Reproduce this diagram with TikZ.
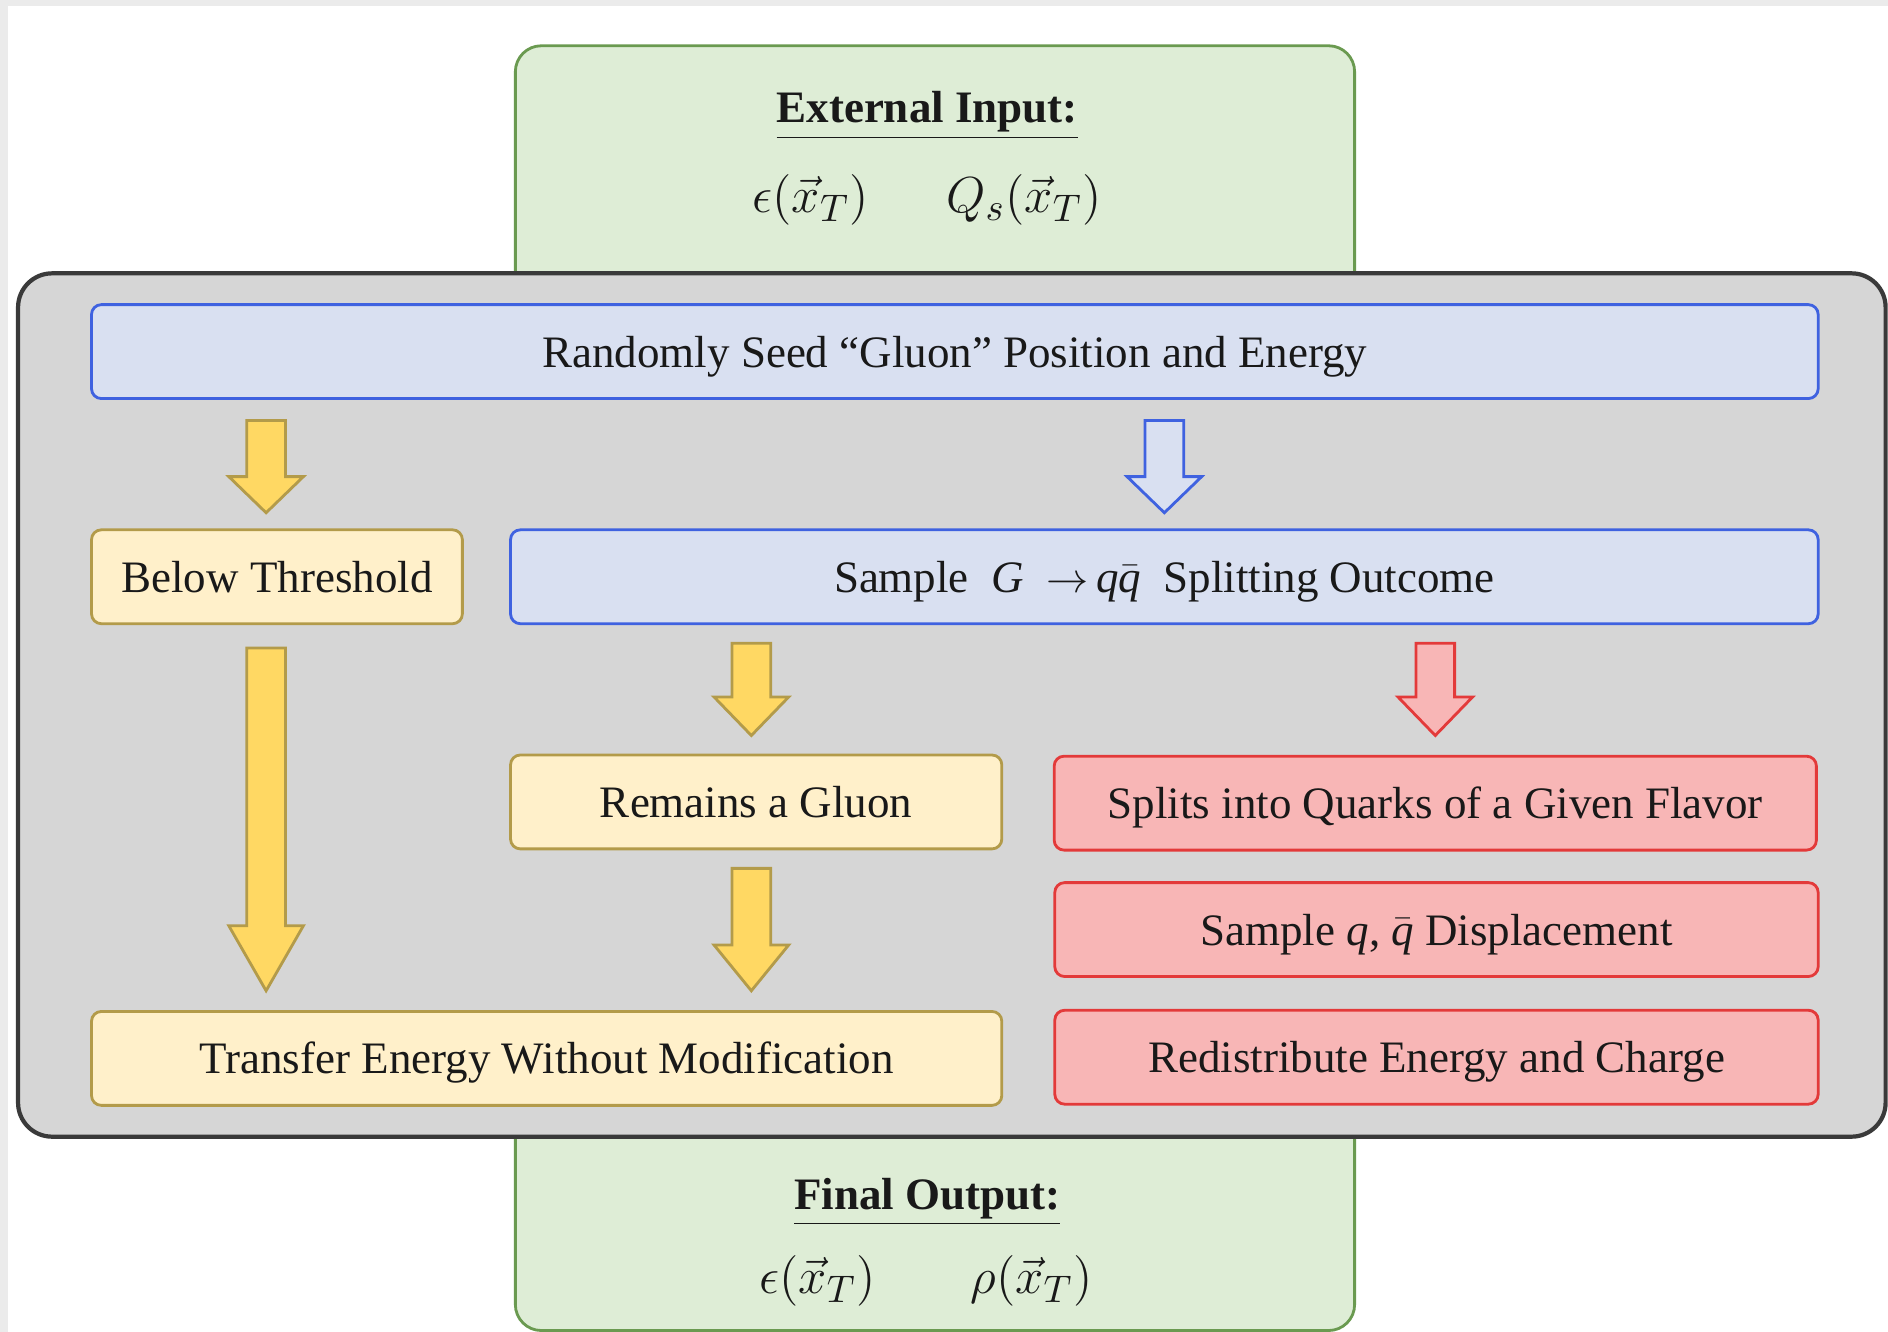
\documentclass[tikz,border=0pt]{standalone}
\usepackage{fontspec}
\setmainfont{Liberation Serif}
\usetikzlibrary{calc,positioning}
\definecolor{grayfill}{HTML}{D6D6D6}
\definecolor{grayline}{HTML}{3A3A3A}
\definecolor{greenfill}{HTML}{DEEDD6}
\definecolor{greenline}{HTML}{6A9A50}
\definecolor{bluefill}{HTML}{D9E0F1}
\definecolor{blueline}{HTML}{3F62E0}
\definecolor{yelfill}{HTML}{FFF0CA}
\definecolor{yelline}{HTML}{B39B4A}
\definecolor{yelarrow}{HTML}{FFD863}
\definecolor{redfill}{HTML}{F8B6B6}
\definecolor{redline}{HTML}{E33A3A}
\def\pxu{0.12041mm}
\def\shaftw{1.93mm}
\def\headw{3.73mm}
% fat block arrow: [head length]{style}{start}{tip}
\newcommand{\fatarrow}[4][30]{%
	\draw[#2] let \p1=#3, \p2=#4 in
		(\x1-\shaftw,\y1) -- (\x1+\shaftw,\y1) -- (\x1+\shaftw,\y2+#1*\pxu)
		-- (\x1+\headw,\y2+#1*\pxu) -- (\x1,\y2) -- (\x1-\headw,\y2+#1*\pxu)
		-- (\x1-\shaftw,\y2+#1*\pxu) -- cycle;}

\begin{document}
\begin{tikzpicture}[x=\pxu,y=-\pxu,% picture in pixels of the reference
			every node/.style={
				align=center,
				text=black!90,
				font=\fontsize{12.8pt}{15pt}\selectfont
			},
			box/.style={rectangle,rounded corners=2.8pt,line width=0.8pt,
				minimum height=78*\pxu,inner sep=0pt,
				text height=11pt,text depth=2.2pt},
			bluebox/.style={box,draw=blueline,fill=bluefill},
			yelbox/.style={box,draw=yelline,fill=yelfill},
			redbox/.style={box,draw=redline,fill=redfill},
			mathtext/.style={font=\fontsize{15pt}{18pt}\selectfont},
			yelarr/.style={draw=yelline,fill=yelarrow,line width=0.8pt,line join=miter},
			bluearr/.style={draw=blueline,fill=bluefill,line width=0.8pt,line join=miter},
			redarr/.style={draw=redline,fill=redfill,line width=0.8pt,line join=miter}
		]
		\useasboundingbox (0,0) rectangle (1568,1106);
		\fill[white] (0,0) rectangle (1568,1106);
		\fill[black!8] (0,0) rectangle (7,1106);
		\fill[black!8] (0,0) rectangle (1568,5);

		% input and output panels
		\draw[greenline,fill=greenfill,line width=0.8pt,rounded corners=2.6mm] (428,38) rectangle (1125,320);
		\draw[greenline,fill=greenfill,line width=0.8pt,rounded corners=2.6mm] (428,880) rectangle (1125,1105);
		\node[font=\fontsize{12.8pt}{15pt}\selectfont\bfseries](intitle) at (770,96) {\underline{External Input:}};
		\node[mathtext](inmath) at (770,166) {$\epsilon\bigl(\vec{x}_T\bigr)\hspace{22pt}Q_s\bigl(\vec{x}_T\bigr)$};
		\node[font=\fontsize{12.8pt}{15pt}\selectfont\bfseries](outtitle) at (770,998) {\underline{Final Output:}};
		\node[mathtext](outmath) at (769,1064) {$\epsilon\bigl(\vec{x}_T\bigr)\hspace{27pt}\rho\bigl(\vec{x}_T\bigr)$};

		% main stage
		\draw[grayline,fill=grayfill,line width=1.2pt,rounded corners=3.4mm] (15,227) rectangle (1566,944);

		\node[bluebox,minimum width=1434*\pxu](seed) at (793,292) {Randomly Seed ``Gluon'' Position and Energy};
		\node[yelbox,minimum width=308*\pxu](below) at (230,479) {Below Threshold};
		\node[bluebox,minimum width=1086*\pxu](split) at (967,479) {Sample\ \ \textit{G}\ \ $\rightarrow$\,\textit{q}$\bar{\textit{q}}$\ \ Splitting Outcome};
		\node[yelbox,minimum width=408*\pxu](remains) at (628,666) {Remains a Gluon};
		\node[redbox,minimum width=633*\pxu](flavor) at (1192,667) {Splits into Quarks of a Given Flavor};
		\node[redbox,minimum width=634*\pxu](displ) at (1193,772) {Sample \textit{q}, $\bar{\textit{q}}$ Displacement};
		\node[yelbox,minimum width=756*\pxu](transfer) at (454,879) {Transfer Energy Without Modification};
		\node[redbox,minimum width=634*\pxu](redist) at (1193,878) {Redistribute Energy and Charge};

		\fatarrow[30]{yelarr}{($(seed.south -| below.north)+(-9,17)$)}{($(below.north)+(-9,-13)$)}
		\fatarrow[30]{bluearr}{($(seed.south -| split.north)+(0,17)$)}{($(split.north)+(0,-13)$)}
		\fatarrow[54]{yelarr}{($(below.south)+(-9,19)$)}{($(transfer.north -| below.south)+(-9,-16)$)}
		\fatarrow[32]{yelarr}{($(split.south -| remains.north)+(-4,15)$)}{($(remains.north)+(-4,-15)$)}
		\fatarrow[32]{redarr}{($(split.south -| flavor.north)+(0,15)$)}{($(flavor.north)+(0,-16)$)}
		\fatarrow[38]{yelarr}{($(remains.south)+(-4,15)$)}{($(transfer.north -| remains.south)+(-4,-16)$)}
	\end{tikzpicture}
\end{document}
